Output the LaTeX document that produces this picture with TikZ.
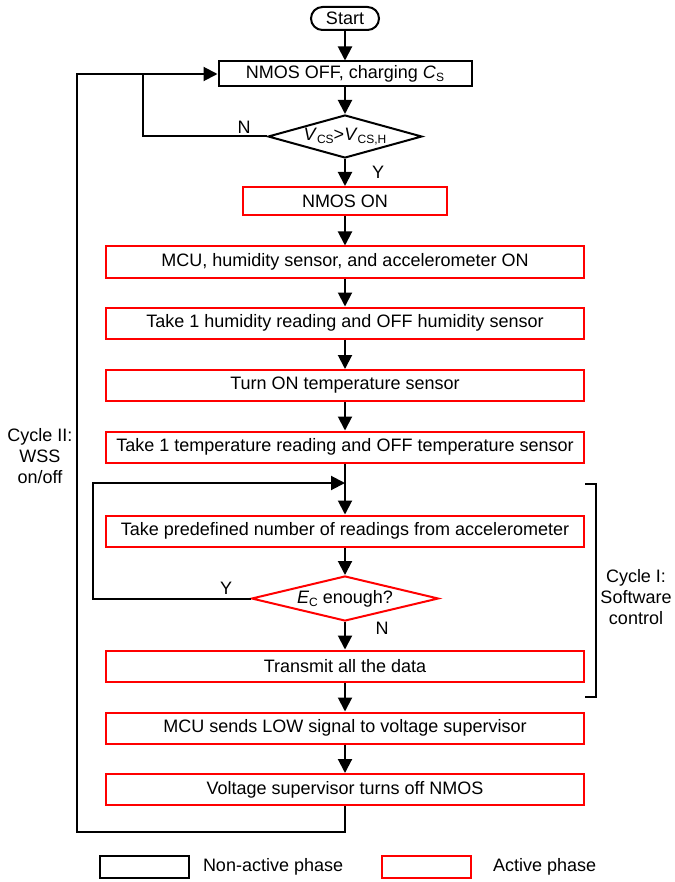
\documentclass[tikz,border=0pt]{standalone}
\usepackage{fontspec}
\setmainfont{Liberation Sans}
\usetikzlibrary{arrows.meta,shapes.geometric}
\newcommand\mysub[1]{\raisebox{-0.35ex}{\fontsize{12}{12}\selectfont #1}}
\begin{document}
\begin{tikzpicture}[x=1pt,y=-1pt,
  font=\fontsize{18}{21}\selectfont,
  line width=2pt,
  nonact/.style={draw=black, rectangle, inner sep=0pt},
  actbox/.style={draw=red, rectangle, inner sep=0pt, minimum width=478pt, minimum height=31pt},
  actdia/.style={draw=red, diamond, inner sep=0pt},
  arr/.style={-{Triangle[length=14pt,width=14pt]}},
  lbl/.style={inner sep=0pt}]
\useasboundingbox (0,0) rectangle (674,882);

\node[nonact, rounded corners=11.5pt, minimum width=68pt, minimum height=23pt] (start) at (345,18.5) {Start};
\node[nonact, minimum width=253pt, minimum height=25pt] (off) at (345,74) {NMOS OFF, charging \textit{C}\mysub{S}};
\node[nonact, diamond, minimum width=154pt, minimum height=43pt, shape aspect=3.6] (d1) at (345,136.5) {\textit{V}\mysub{CS}>\textit{V}\mysub{CS,H}};
\node[draw=red, rectangle, inner sep=0pt, minimum width=204pt, minimum height=28pt] (on) at (345,201) {NMOS ON};
\node[actbox] (b1) at (345,262) {MCU, humidity sensor, and accelerometer ON};
\node[actbox] (b2) at (345,323) {Take 1 humidity reading and OFF humidity sensor};
\node[actbox] (b3) at (345,385.5) {Turn ON temperature sensor};
\node[actbox] (b4) at (345,447) {Take 1 temperature reading and OFF temperature sensor};
\coordinate (m) at (345,483);
\node[actbox] (b5) at (345,531) {Take predefined number of readings from accelerometer};
\node[actdia, minimum width=187pt, minimum height=45pt, shape aspect=4.2] (d2) at (345,598.5) {\textit{E}\mysub{C} enough?};
\node[actbox] (b6) at (345,666) {Transmit all the data};
\node[actbox] (b7) at (345,728) {MCU sends LOW signal to voltage supervisor};
\node[actbox] (b8) at (345,789.5) {Voltage supervisor turns off NMOS};

\coordinate (c1) at (345,832);
\coordinate (c2) at (77,832);
\coordinate (c3) at (77,74);
\coordinate (n1) at (143,136.5);
\coordinate (n2) at (143,74);
\coordinate (y1) at (93,598.5);
\coordinate (y2) at (93,483);

\draw[arr] (start) -- (off);
\draw[arr] (off) -- (d1);
\draw[arr] (d1) -- (on);
\draw[arr] (on) -- (b1);
\draw[arr] (b1) -- (b2);
\draw[arr] (b2) -- (b3);
\draw[arr] (b3) -- (b4);
\draw[arr] (b4) -- (b5);
\draw[arr] (b5) -- (d2);
\draw[arr] (d2) -- (b6);
\draw[arr] (b6) -- (b7);
\draw[arr] (b7) -- (b8);
\draw (b8.south) -- (c1) -- (c2) -- (c3) -- (n2);
\draw[arr] (n2) -- (off.west);
\draw (d1.west) -- (n1) -- (n2);
\draw[arr] (d2.west) -- (y1) -- (y2) -- (m);

\node[lbl] (lN1) at (244,127) {N};
\node[lbl] (lY1) at (378,172) {Y};
\node[lbl] (lY2) at (226,588) {Y};
\node[lbl] (lN2) at (382,628) {N};

% bracket
\coordinate (k1) at (585,484);
\coordinate (k2) at (596,484);
\coordinate (k3) at (596,697);
\coordinate (k4) at (585,697);
\draw (k1) -- (k2) -- (k3) -- (k4);
\node[align=center, inner sep=0pt] (cyc1) at (636,597) {Cycle I:\\Software\\control};
\node[align=center, inner sep=0pt] (cyc2) at (40,456) {Cycle II:\\WSS\\on/off};

% legend
\node[nonact, minimum width=89pt, minimum height=22pt] (lg1) at (144.5,867) {};
\node[lbl, anchor=west] (lt1) at (202,867) {Non-active phase};
\node[draw=red, rectangle, inner sep=0pt, minimum width=89pt, minimum height=22pt] (lg2) at (426,867) {};
\node[lbl, anchor=west] (lt2) at (492,867) {Active phase};
\end{tikzpicture}
\end{document}
